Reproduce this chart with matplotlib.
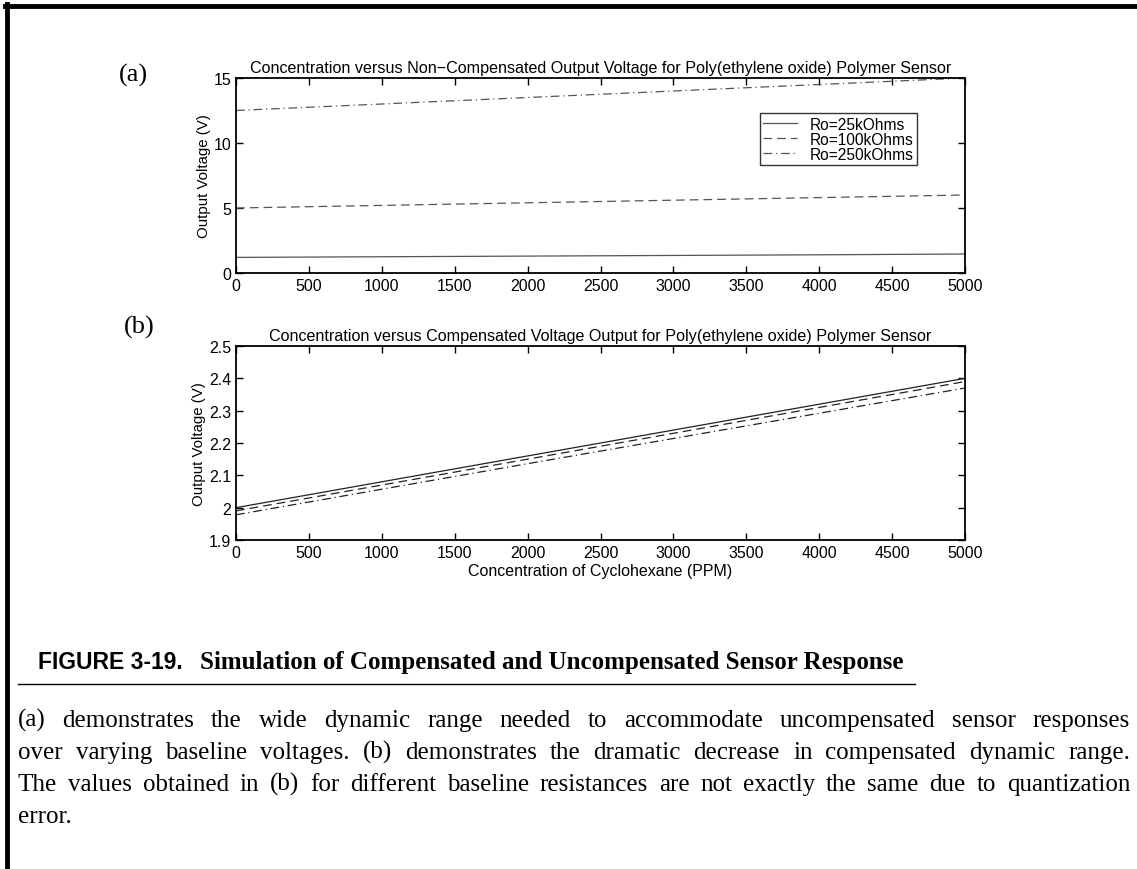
import matplotlib
matplotlib.use("Agg")
import matplotlib.pyplot as plt
from matplotlib.lines import Line2D

# Sensor output vs cyclohexane concentration (PPM)
conc = [0, 1000, 2000, 3000, 4000, 5000]

# (a) non-compensated output voltage for three baseline resistances
raw_25k = [1.20, 1.25, 1.30, 1.35, 1.40, 1.46]
raw_100k = [5.00, 5.20, 5.40, 5.60, 5.80, 6.00]
raw_250k = [12.50, 13.00, 13.50, 14.00, 14.50, 15.00]

# (b) compensated output voltage
comp_25k = [2.000, 2.080, 2.160, 2.240, 2.320, 2.400]
comp_100k = [1.990, 2.070, 2.150, 2.230, 2.310, 2.390]
comp_250k = [1.978, 2.057, 2.136, 2.214, 2.292, 2.370]

labels = ["Ro=25kOhms", "Ro=100kOhms", "Ro=250kOhms"]
x_ticks = list(range(0, 5001, 500))
y_ticks_a = [0, 5, 10, 15]
y_ticks_b = [1.9, 2.0, 2.1, 2.2, 2.3, 2.4, 2.5]
y_ticklabels_b = ["1.9", "2", "2.1", "2.2", "2.3", "2.4", "2.5"]

caption_head = "FIGURE 3-19."
caption_text = "Simulation of Compensated and Uncompensated Sensor Response"
paragraph = [
    "(a) demonstrates the wide dynamic range needed to accommodate uncompensated sensor responses",
    "over varying baseline voltages. (b) demonstrates the dramatic decrease in compensated dynamic range.",
    "The values obtained in (b) for different baseline resistances are not exactly the same due to quantization",
    "error.",
]

sans = "Liberation Sans"
serif = "Liberation Serif"
W, H = 1137, 870

fig = plt.figure(figsize=(W / 100, H / 100), dpi=100)
fig.patch.set_facecolor("white")

styles = ["-", (0, (7, 4)), (0, (7, 3, 1, 3))]


def style_axes(ax):
    ax.set_xlim(0, 5000)
    ax.set_xticks(x_ticks)
    ax.tick_params(direction="in", length=5, width=1, top=True, right=True,
                   labelsize=11.5, colors="black")
    ax.tick_params(axis="x", pad=3.5)
    ax.tick_params(axis="y", pad=3.5)
    for lab in ax.get_xticklabels() + ax.get_yticklabels():
        lab.set_family(sans)
    for s in ax.spines.values():
        s.set_linewidth(1.3)


ax1 = fig.add_axes([236 / W, 1 - 274 / H, 729 / W, 195 / H])
for y, ls, lab in zip([raw_25k, raw_100k, raw_250k], styles, labels):
    ax1.plot(conc, y, color="#555555", lw=0.9, ls=ls, label=lab)
ax1.set_ylim(0, 15)
ax1.set_yticks(y_ticks_a)
style_axes(ax1)
ax1.set_title("Concentration versus Non\u2212Compensated Output Voltage for Poly(ethylene oxide) Polymer Sensor",
              fontsize=11.6, family=sans, pad=4)
ax1.set_ylabel("Output Voltage (V)", fontsize=10.8, family=sans, labelpad=2)
leg = ax1.legend(loc="upper left", bbox_to_anchor=(0.719, 0.818), frameon=True,
                 fancybox=False, prop={"family": sans, "size": 11.2}, handlelength=2.2,
                 borderpad=0.2, labelspacing=0.0, handletextpad=0.8, borderaxespad=0)
leg.get_frame().set_edgecolor("black")
leg.get_frame().set_linewidth(1.0)

ax2 = fig.add_axes([236 / W, 1 - 541 / H, 729 / W, 194 / H])
for y, ls in zip([comp_25k, comp_100k, comp_250k], styles):
    ax2.plot(conc, y, color="#222222", lw=0.9, ls=ls)
ax2.set_ylim(1.9, 2.5)
ax2.set_yticks(y_ticks_b)
ax2.set_yticklabels(y_ticklabels_b)
style_axes(ax2)
ax2.set_title("Concentration versus Compensated Voltage Output for Poly(ethylene oxide) Polymer Sensor",
              fontsize=11.6, family=sans, pad=4)
ax2.set_ylabel("Output Voltage (V)", fontsize=10.8, family=sans, labelpad=2)
ax2.set_xlabel("Concentration of Cyclohexane (PPM)", fontsize=11.5, family=sans, labelpad=2)

# panel letters
fig.text(119 / W, 1 - 75 / H, "(a)", family=serif, fontsize=19, va="center")
fig.text(124 / W, 1 - 327 / H, "(b)", family=serif, fontsize=19, va="center")

# page border (top and left)
fig.add_artist(Line2D([5 / W, 1], [1 - 7 / H, 1 - 7 / H], color="black", lw=3.5,
                      transform=fig.transFigure))
fig.add_artist(Line2D([7 / W, 7 / W], [0, 1 - 5 / H], color="black", lw=3.5,
                      transform=fig.transFigure))

# caption
renderer = fig.canvas.get_renderer()
fig.text(38 / W, 1 - 669 / H, caption_head, family=sans, weight="bold",
         fontsize=16.5, va="baseline")
fig.text(200 / W, 1 - 669 / H, caption_text, family=serif, weight="bold",
         fontsize=18, va="baseline")
fig.add_artist(Line2D([18 / W, 915 / W], [1 - 685 / H, 1 - 685 / H], color="black", lw=1.0,
                      transform=fig.transFigure))


def justified(line, x0, x1, y_px, fill=True):
    words = line.split(" ")
    arts = [fig.text(0, 1 - y_px / H, w, family=serif, fontsize=18, va="baseline")
            for w in words]
    widths = [a.get_window_extent(renderer).width for a in arts]
    if fill and len(words) > 1:
        gap = (x1 - x0 - sum(widths)) / (len(words) - 1)
    else:
        gap = 5
    x = x0
    for a, w in zip(arts, widths):
        a.set_x(x / W)
        x += w + gap


base_y = [727, 759, 791, 823]
for i, (line, yb) in enumerate(zip(paragraph, base_y)):
    justified(line, 18, 1130, yb, fill=(i < len(paragraph) - 1))

fig.savefig("out.png", dpi=100)
